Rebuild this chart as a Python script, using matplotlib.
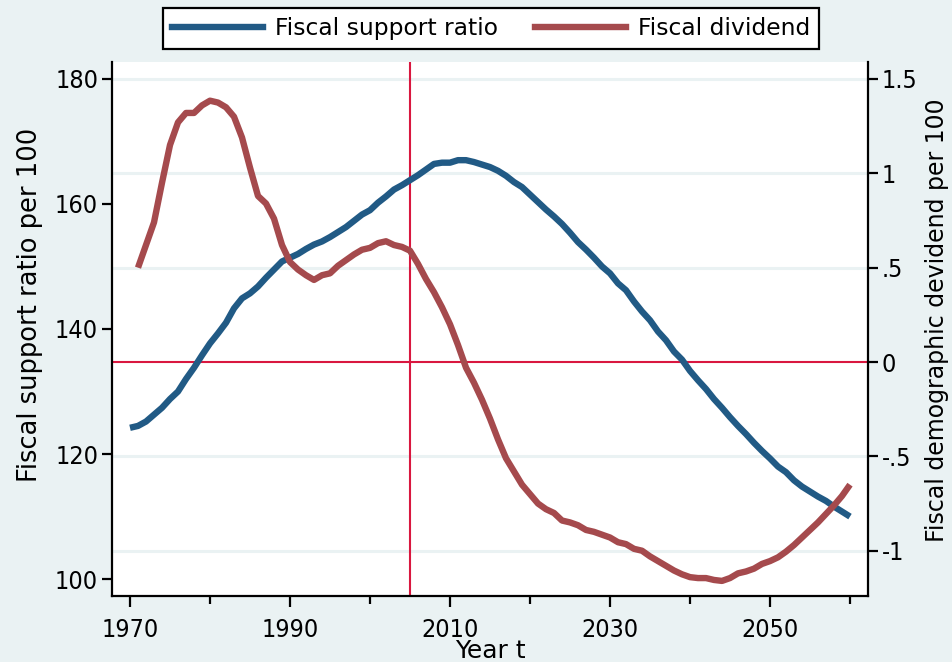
import matplotlib
matplotlib.use('Agg')
import matplotlib.pyplot as plt
from matplotlib import font_manager as fm
from matplotlib.lines import Line2D

# ---------------- data ----------------
years_ratio = list(range(1970, 2061))
support_ratio = [
    124.2, 124.5, 125.2, 126.3, 127.4, 128.8, 130.0, 132.0, 133.8, 135.8,  # 1970-79
    137.7, 139.3, 141.0, 143.3, 144.9, 145.7, 146.8, 148.2, 149.5, 150.8,  # 1980-89
    151.4, 152.0, 152.8, 153.5, 154.0, 154.7, 155.5, 156.3, 157.3, 158.3,  # 1990-99
    159.0, 160.2, 161.2, 162.3, 163.0, 163.8, 164.6, 165.5, 166.4, 166.6,  # 2000-09
    166.6, 167.0, 167.0, 166.7, 166.3, 165.9, 165.3, 164.5, 163.5, 162.7,  # 2010-19
    161.5, 160.3, 159.1, 158.0, 156.8, 155.4, 153.9, 152.7, 151.4, 150.0,  # 2020-29
    148.9, 147.3, 146.2, 144.4, 142.8, 141.4, 139.6, 138.2, 136.4, 135.1,  # 2030-39
    133.3, 131.8, 130.4, 128.8, 127.4, 125.9, 124.5, 123.2, 121.8, 120.5,  # 2040-49
    119.3, 118.0, 117.1, 115.8, 114.8, 114.0, 113.2, 112.5, 111.6, 110.8,  # 2050-59
    110.0,                                                                 # 2060
]
years_div = list(range(1971, 2061))
fiscal_dividend = [
    0.50, 0.62, 0.74, 0.95, 1.15, 1.27, 1.32, 1.32, 1.36,                 # 1971-79
    1.385, 1.375, 1.35, 1.30, 1.19, 1.03, 0.88, 0.84, 0.76, 0.62,         # 1980-89
    0.53, 0.49, 0.46, 0.435, 0.46, 0.47, 0.51, 0.54, 0.57, 0.595,         # 1990-99
    0.605, 0.63, 0.64, 0.62, 0.61, 0.59, 0.52, 0.44, 0.37, 0.29,          # 2000-09
    0.20, 0.09, -0.03, -0.11, -0.20, -0.30, -0.41, -0.51, -0.58, -0.65,   # 2010-19
    -0.70, -0.75, -0.78, -0.80, -0.84, -0.85, -0.865, -0.89, -0.90, -0.915,  # 2020-29
    -0.93, -0.955, -0.965, -0.99, -1.00, -1.03, -1.055, -1.08, -1.105, -1.125,  # 2030-39
    -1.14, -1.145, -1.145, -1.155, -1.16, -1.145, -1.12, -1.11, -1.095, -1.07,  # 2040-49
    -1.055, -1.035, -1.005, -0.97, -0.93, -0.89, -0.85, -0.805, -0.76, -0.71,   # 2050-59
    -0.65,                                                                       # 2060
]
left_ticks = [100, 120, 140, 160, 180]
right_ticks = [-1, -0.5, 0, 0.5, 1, 1.5]
right_labels = ['-1', '-.5', '0', '.5', '1', '1.5']
x_major = [1970, 1990, 2010, 2030, 2050]
x_minor = [1980, 2000, 2020, 2040, 2060]
ref_year = 2005
ref_dividend = 0

# ---------------- font ----------------
names = {f.name for f in fm.fontManager.ttflist}
stretch = 'normal'
if 'Liberation Sans Narrow' in names:
    fam = 'Liberation Sans Narrow'
elif any(f.name == 'DejaVu Sans' and f.stretch == 'condensed' for f in fm.fontManager.ttflist):
    fam = 'DejaVu Sans'
    stretch = 'condensed'
else:
    fam = 'Liberation Sans'
plt.rcParams['font.family'] = [fam]
plt.rcParams['font.stretch'] = stretch

BG = '#EAF2F3'
BLUE = '#215A85'
RED = '#A54A4D'
REF = '#D9173F'

W, H = 953, 662
fig = plt.figure(figsize=(W / 100, H / 100), dpi=100, facecolor=BG)
L, R, T, B = 112, 868, 62, 596
ax = fig.add_axes([L / W, 1 - B / H, (R - L) / W, (B - T) / H])
ax.set_facecolor('white')
ax2 = ax.twinx()

ax.set_xlim(1967.75, 2062.25)
ax.set_ylim(97.3, 182.7)
ax2.set_ylim(-1.24, 1.59)

# gridlines at the right-axis ticks (drawn on ax, in ax2's coordinates)
for t in right_ticks:
    if t == ref_dividend:
        continue
    ax.plot([1967.75, 2062.25], [t, t], color=BG, lw=2.2, zorder=0.5,
            transform=ax2.transData)

# reference lines
ax.axvline(ref_year, color=REF, lw=1.5, zorder=1)
ax.plot([1967.75, 2062.25], [ref_dividend, ref_dividend], color=REF, lw=1.5,
        zorder=1, transform=ax2.transData)

ax.plot(years_ratio, support_ratio, color=BLUE, lw=4.6, zorder=2,
        solid_joinstyle='round', solid_capstyle='butt')
ax2.plot(years_div, fiscal_dividend, color=RED, lw=4.6, zorder=2,
         solid_joinstyle='round', solid_capstyle='butt')

ax.spines['top'].set_visible(False)
ax2.spines['top'].set_visible(False)
ax2.spines['left'].set_visible(False)
ax2.spines['bottom'].set_visible(False)
ax.spines['right'].set_visible(False)
for s in ['left', 'bottom']:
    ax.spines[s].set_linewidth(1.6)
ax2.spines['right'].set_linewidth(1.6)

ax.set_yticks(left_ticks)
ax.set_yticklabels([str(v) for v in left_ticks])
ax2.set_yticks(right_ticks)
ax2.set_yticklabels(right_labels)
ax.set_xticks(x_major)
ax.set_xticklabels([str(v) for v in x_major])
ax.set_xticks(x_minor, minor=True)

ax.tick_params(axis='y', direction='out', length=7, width=1.6, labelsize=18, pad=3)
ax2.tick_params(axis='y', direction='out', length=7, width=1.6, labelsize=18, pad=3)
ax.tick_params(axis='x', which='major', direction='out', length=8, width=1.6,
               labelsize=18, pad=8)
ax.tick_params(axis='x', which='minor', direction='out', length=6, width=1.6)

ax.set_ylabel('Fiscal support ratio per 100', fontsize=18.5, fontstretch='normal')
ax.yaxis.set_label_coords((43 - L) / (R - L), (B - 305) / (B - T))
ax2.set_ylabel('Fiscal demographic devidend per 100', fontsize=17,
               fontstretch='normal')
ax2.yaxis.set_label_coords((925 - L) / (R - L), (B - 320) / (B - T))
ax.set_xlabel('Year t', labelpad=-2, fontsize=18, fontstretch='normal')

handles = [Line2D([], [], color=BLUE, lw=4.6), Line2D([], [], color=RED, lw=4.6)]
leg = ax.legend(handles, ['Fiscal support ratio', 'Fiscal dividend'], ncol=2,
                loc='upper center', bbox_to_anchor=(491 / W, 1 - 8 / H),
                bbox_transform=fig.transFigure, frameon=True, fancybox=False,
                edgecolor='black', facecolor='white', framealpha=1,
                prop=dict(family=fam, size=16.8, stretch='normal'),
                handlelength=3.9, handletextpad=0.5, borderaxespad=0,
                columnspacing=1.6, borderpad=0.38)
leg.get_frame().set_linewidth(1.6)
leg.set_zorder(10)

fig.savefig('out.png', dpi=100, facecolor=BG)
